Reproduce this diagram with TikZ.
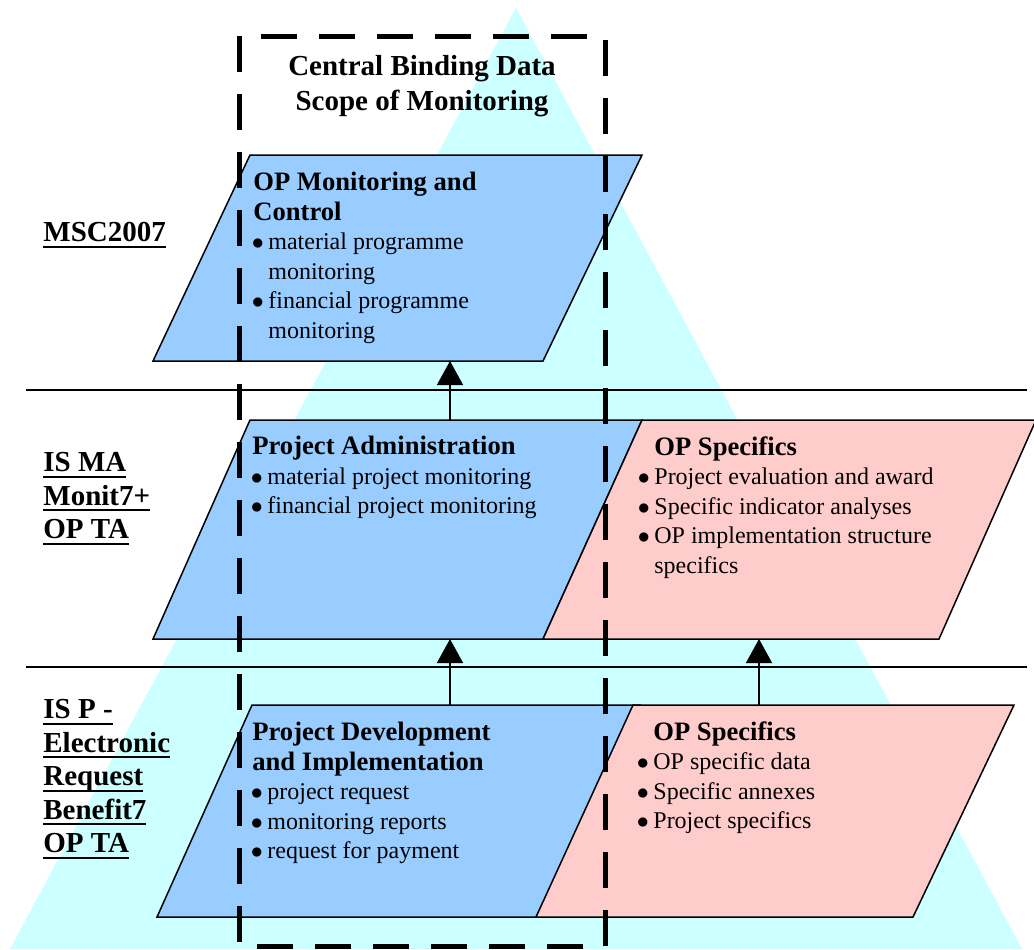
\documentclass[tikz,border=0pt]{standalone}
\usepackage{fontspec}
\setmainfont{Liberation Serif}
\usetikzlibrary{arrows.meta}

\definecolor{pyramid}{HTML}{CCFFFF}
\definecolor{boxblue}{HTML}{99CCFF}
\definecolor{boxpink}{HTML}{FFCCCC}

\newcommand\bul{\makebox[7.5pt][l]{\hspace*{-0.8pt}$\bullet$}}
\newcommand\ind{\hspace*{7.5pt}}
\newcommand\hd[1]{{\fontsize{13.3}{14.75}\selectfont\bfseries #1}}
\newcommand\ulbl[1]{\setbox0\hbox{#1}\rlap{\rule[-3pt]{\wd0}{1pt}}\box0}

\tikzset{
  bluebox/.style={draw, fill=boxblue, line width=0.75pt, line join=miter},
  pinkbox/.style={draw, fill=boxpink, line width=0.75pt, line join=miter},
  sep/.style={line width=0.75pt},
  arr/.style={-{Triangle[width=13pt,length=12pt]}, line width=0.75pt},
  scopebox/.style={line width=2.5pt, dash pattern=on 18pt off 11pt},
  txt/.style={anchor=north west, inner sep=0pt, align=left, font=\fontsize{12}{14.75}\selectfont},
  lvl/.style={anchor=north west, inner sep=0pt, align=left, font=\fontsize{14.5}{16.75}\selectfont\bfseries},
}

\begin{document}
\begin{tikzpicture}[x=0.5pt,y=-0.5pt]
\useasboundingbox (0,0) rectangle (1034,949);

% pyramid in the back
\fill [pyramid] (516,8) -- (1022,949) -- (10,949) -- cycle;

% level separators
\draw [sep] (26,390) -- (1027,390);
\draw [sep] (26,667) -- (1027,667);

% top level
\draw [bluebox] (250,155) -- (642,155) -- (543,361) -- (153,361) -- cycle;
\coordinate (mon-bot) at (450,361);

% middle level
\draw [bluebox] (250,420) -- (642,420) -- (543,639) -- (153,639) -- cycle;
\draw [pinkbox] (642,420) -- (1036,420) -- (939,639) -- (543,639) -- cycle;
\coordinate (adm-top) at (450,420);
\coordinate (adm-bot) at (450,639);
\coordinate (spec-top) at (759,420);
\coordinate (spec-bot) at (759,639);

% bottom level
\draw [bluebox] (252,705) -- (640,705) -- (543,917) -- (157,917) -- cycle;
\draw [pinkbox] (633,705) -- (1014,705) -- (913,917) -- (536,917) -- cycle;
\coordinate (dev-top) at (450,705);
\coordinate (opd-top) at (759,705);

\draw [arr] (adm-top) -- (mon-bot);
\draw [arr] (dev-top) -- (adm-bot);
\draw [arr] (opd-top) -- (spec-bot);

% box texts
\node [txt] (mon) at (253,172) {\hd{OP Monitoring and}\\\hd{Control}\\
  \bul material programme\\\ind monitoring\\
  \bul financial programme\\\ind monitoring};
\node [txt] (adm) at (252,436) {\hd{Project Administration}\\
  \bul material project monitoring\\
  \bul financial project monitoring};
\node [txt] (spec) at (639,436) {\ind\hd{OP Specifics}\\
  \bul Project evaluation and award\\
  \bul Specific indicator analyses\\
  \bul OP implementation structure\\\ind specifics};
\node [txt] (dev) at (252,722) {\hd{Project Development}\\\hd{and Implementation}\\
  \bul project request\\
  \bul monitoring reports\\
  \bul request for payment};
\node [txt] (opd) at (638,721) {\ind\hd{OP Specifics}\\
  \bul OP specific data\\
  \bul Specific annexes\\
  \bul Project specifics};

% level names
\node [lvl] (msc) at (43,222) {\ulbl{MSC2007}};
\node [lvl] (isma) at (43,452) {\ulbl{IS MA}\\\ulbl{Monit7+}\\\ulbl{OP TA}};
\node [lvl] (isp) at (43,699) {\ulbl{IS P -}\\\ulbl{Electronic}\\\ulbl{Request}\\\ulbl{Benefit7}\\\ulbl{OP TA}};

% scope of the central data
\draw [scopebox] (239,36) rectangle (605,946);
\node [lvl, anchor=north, align=center, font=\fontsize{14.5}{17.5}\selectfont\bfseries]
  (scope) at (422,55) {Central Binding Data\\Scope of Monitoring};
\end{tikzpicture}
\end{document}
